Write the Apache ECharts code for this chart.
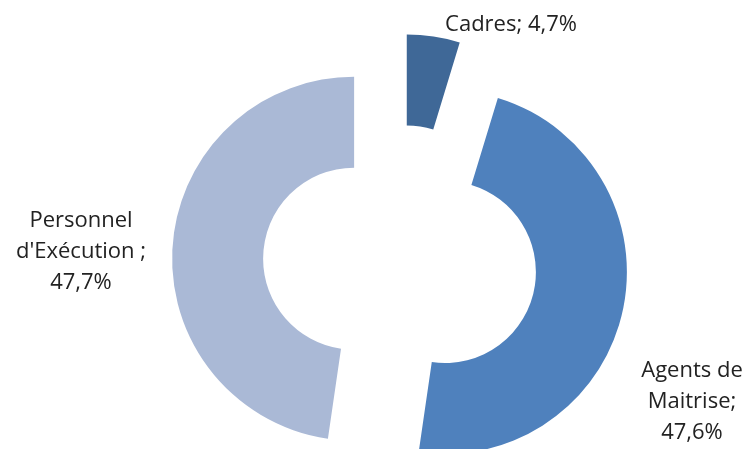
<!DOCTYPE html>
<html>
<head>
<meta charset="utf-8">
<script src="https://cdn.jsdelivr.net/npm/echarts@6/dist/echarts.min.js"></script>
<style>
  html, body { margin: 0; padding: 0; background: #fff; }
  #pie { width: 749px; height: 449px; }
</style>
</head>
<body>
<div id="pie"></div>
<script>
// categories (clockwise from 12 o'clock)
const categories = ['Cadres', 'Agents de Maitrise', "Personnel d'Exécution"];
// shares in %
const shares = [4.7, 47.6, 47.7];
// label text as wrapped in the original
const labelText = ['Cadres; 4,7%', 'Agents de\nMaitrise;\n47,6%', "Personnel\nd'Exécution ;\n47,7%"];
const colors = ['#3F6897', '#4F81BD', '#AAB9D6'];

// where the data labels sit (centre of each text block)
const labelSpots = [[511, 25], [692, 402], [81, 252]];

const chart = echarts.init(document.getElementById('pie'));
chart.setOption({
  animation: false,
  backgroundColor: '#fff',
  graphic: labelText.map((t, i) => ({
    type: 'text',
    x: labelSpots[i][0],
    y: labelSpots[i][1],
    silent: true,
    style: {
      text: t,
      fontFamily: 'Open Sans',
      fontSize: 22,
      lineHeight: 31,
      fill: '#222',
      align: 'center',
      verticalAlign: 'middle'
    }
  })),
  series: [
    {
      type: 'pie',
      center: [400, 262],
      radius: [91, 182],
      startAngle: 90,
      clockwise: true,
      selectedMode: 'multiple',
      selectedOffset: 46,
      emphasis: { disabled: true },
      label: { show: false },
      labelLine: { show: false },
      data: categories.map((name, i) => ({
        name: name,
        value: shares[i],
        selected: true,
        itemStyle: { color: colors[i] }
      }))
    }
  ]
});
</script>
</body>
</html>
